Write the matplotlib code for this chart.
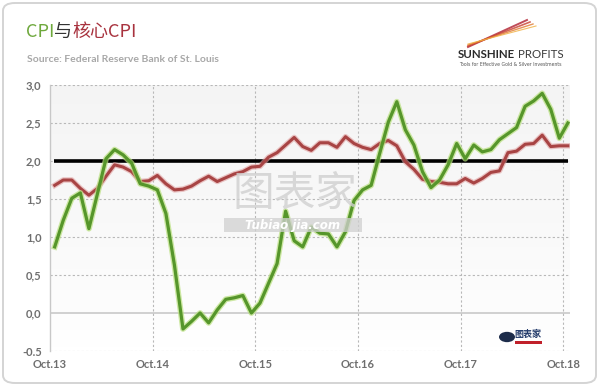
import matplotlib.pyplot as plt
import numpy as np
from matplotlib.patches import FancyBboxPatch, Rectangle
from matplotlib.lines import Line2D

# monthly values, Oct 2013 .. Oct 2018
cpi = [0.87, 1.22, 1.51, 1.58, 1.11, 1.57, 2.03, 2.15, 2.08, 1.97, 1.70, 1.67, 1.62, 1.31, 0.63,
       -0.21, -0.11, 0.00, -0.13, 0.04, 0.18, 0.20, 0.23, 0.00, 0.13, 0.39, 0.65, 1.34, 0.95, 0.87,
       1.13, 1.05, 1.04, 0.87, 1.07, 1.48, 1.62, 1.68, 2.10, 2.51, 2.78, 2.41, 2.21, 1.86, 1.65, 1.75,
       1.95, 2.23, 2.03, 2.21, 2.12, 2.15, 2.28, 2.36, 2.44, 2.72, 2.79, 2.89, 2.68, 2.30, 2.50]
core = [1.68, 1.75, 1.75, 1.64, 1.55, 1.64, 1.80, 1.95, 1.92, 1.86, 1.73, 1.74, 1.81, 1.70, 1.62,
        1.63, 1.67, 1.74, 1.80, 1.73, 1.78, 1.83, 1.86, 1.92, 1.93, 2.05, 2.11, 2.21, 2.31, 2.19, 2.14,
        2.24, 2.24, 2.18, 2.32, 2.23, 2.18, 2.15, 2.23, 2.27, 2.20, 1.99, 1.89, 1.76, 1.73, 1.72,
        1.70, 1.70, 1.77, 1.71, 1.77, 1.85, 1.87, 2.11, 2.13, 2.22, 2.23, 2.34, 2.19, 2.20, 2.20]
target = 2.0
xlabels = ['Oct.13', 'Oct.14', 'Oct.15', 'Oct.16', 'Oct.17', 'Oct.18']
ylabels = ['-0.5', '0,0', '0,5', '1,0', '1,5', '2,0', '2,5', '3,0']

W, H = 600, 388
fig = plt.figure(figsize=(6, 3.88), dpi=100)
fig.patch.set_facecolor('white')

def px(x, y):
    return x / W, 1 - y / H

# rounded card frame
frame = FancyBboxPatch(px(3, 383), 593 / W, 380 / H, boxstyle='round,pad=0,rounding_size=0.02',
                       transform=fig.transFigure, fc='white', ec='#d4d4d4', lw=1.4, zorder=0)
fig.add_artist(frame)

ax = fig.add_axes([50 / W, 37 / H, 520 / W, 266 / H])
ax.patch.set_alpha(0)
months = np.arange(len(cpi)) + 0.55

# background gradient: light grey at top fading to white
grad = np.linspace(0, 1, 100).reshape(-1, 1) ** 0.8
ax.imshow(grad, extent=[0, 60.8, -0.5, 3.0], aspect='auto', cmap='Greys', vmin=0, vmax=11,
          origin='lower', zorder=0)
ax.set_xlim(0, 60.8)
ax.set_ylim(-0.5, 3.0)

for s in ['top', 'right', 'bottom']:
    ax.spines[s].set_visible(False)
ax.spines['left'].set_color('#c8c8c8')
ax.spines['left'].set_linewidth(1.0)

yt = np.arange(-0.5, 3.01, 0.5)
for v in yt:
    if abs(v) < 1e-9:
        ax.axhline(v, color='#c9c9c9', lw=1.2, zorder=1)
    else:
        ax.axhline(v, color='#b8b8b8', lw=0.8, ls=(0, (2, 2)), zorder=1)
xt = np.arange(0, 61, 12)
for v in xt[1:]:
    ax.axvline(v, color='#b8b8b8', lw=0.8, ls=(0, (2, 2)), zorder=1)

ax.set_yticks(yt)
ax.set_yticklabels(ylabels)
ax.set_xticks(xt)
ax.set_xticklabels(xlabels)
ax.tick_params(length=0, labelsize=8, labelcolor='#6e6e6e')
ax.tick_params(axis='y', pad=6)
ax.tick_params(axis='x', pad=6)
for lab in ax.get_xticklabels() + ax.get_yticklabels():
    lab.set_fontfamily('Lato')
    lab.set_fontweight('bold')

# watermark
fig.text(295 / W, 1 - 194 / H, '图表家', fontsize=30, color='#d0d0d0',
         family='Noto Sans CJK SC', ha='center', va='center', zorder=2, alpha=0.8)
fig.add_artist(Rectangle(px(224, 232), 138 / W, 14 / H, transform=fig.transFigure,
                         fc='#d0d0d0', ec='none', alpha=0.75, zorder=3))
fig.text(293 / W, 1 - 225 / H, 'Tubiao jia.com', fontsize=8.5, color='white', style='italic',
         weight='bold', ha='center', va='center', zorder=4)

# lines
ax.hlines(target, 0.45, 60.6, color='black', lw=2.6, zorder=4)
ax.plot(months, core, color='#e0a0a0', lw=4.0, alpha=0.6, zorder=5, solid_joinstyle='round')
ax.plot(months, core, color='#a84444', lw=2.2, zorder=6, solid_joinstyle='round')
ax.plot(months, cpi, color='#b9e07e', lw=4.2, alpha=0.7, zorder=7, solid_joinstyle='round')
ax.plot(months, cpi, color='#56962b', lw=2.3, zorder=8, solid_joinstyle='round')

# title in pieces
renderer = fig.canvas.get_renderer()
x0 = 26 / W
for part, col in [('CPI', '#6ea83c'), ('与', '#333333'), ('核心CPI', '#a8323e')]:
    t = fig.text(x0, 1 - 37 / H, part, fontsize=13, color=col, family='Noto Sans CJK SC',
                 ha='left', va='baseline')
    bb = t.get_window_extent(renderer)
    x0 += bb.width / W
fig.text(27 / W, 1 - 59 / H, 'Source: Federal Reserve Bank of St. Louis', fontsize=7.5,
         color='#a8a8a8', weight='bold', ha='left', va='center', family='Lato')

# sunshine profits logo
for i, c in enumerate(['#b02030', '#c84030', '#e07a30', '#f0b040']):
    fig.add_artist(Line2D([px(468, 0)[0], px(527 + i * 3, 0)[0]],
                          [px(0, 47 - i)[1], px(0, 20 + i * 2)[1]],
                          color=c, lw=1.4 - i * 0.2, alpha=0.8, transform=fig.transFigure))
t1 = fig.text(458 / W, 1 - 55 / H, 'SUNSHINE', fontsize=8.3, weight='bold', color='#2a2a2a',
              ha='left', va='center', family='Lato')
bb = t1.get_window_extent(renderer)
fig.text(458 / W + bb.width / W + 3 / W, 1 - 55 / H, 'PROFITS', fontsize=8.3, color='#3a3a3a',
         ha='left', va='center', family='Lato')
fig.text(459 / W, 1 - 64 / H, 'Tools for Effective Gold & Silver Investments', fontsize=3.3,
         color='#555555', ha='left', va='center')

# small corner logo
fig.add_artist(plt.Circle(px(507, 337), 8 / W, transform=fig.transFigure, fc='#1d2c4a', ec='none',
                          zorder=9))
fig.text(528 / W, 1 - 334 / H, '图表家', fontsize=6.5, color='#223a6a', weight='bold',
         family='Noto Sans CJK SC', ha='center', va='center', zorder=9)
fig.add_artist(Rectangle(px(515, 344), 27 / W, 3 / H, transform=fig.transFigure, fc='#c0202a',
                         ec='none', zorder=9))

plt.savefig('out.png', dpi=100)
